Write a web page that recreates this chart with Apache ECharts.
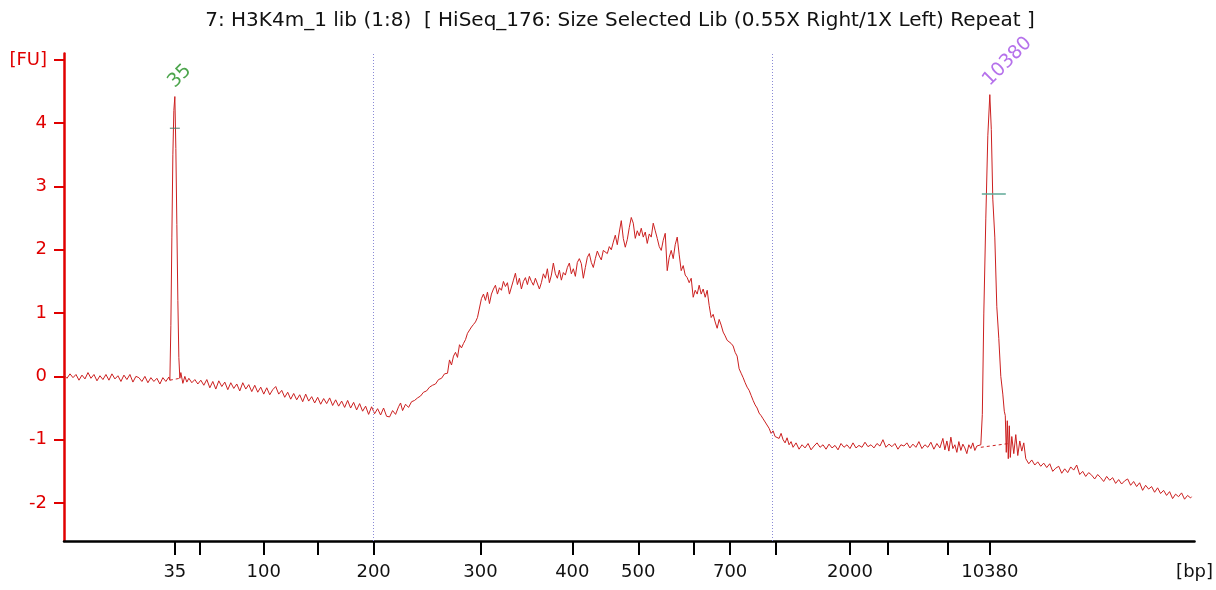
<!DOCTYPE html>
<html>
<head>
<meta charset="utf-8">
<title>Electropherogram</title>
<script src="https://cdn.jsdelivr.net/npm/echarts@6/dist/echarts.min.js"></script>
<style>
  html, body { margin: 0; padding: 0; background: #fff; }
  #chart { width: 1216px; height: 590px; }
</style>
</head>
<body>
<div id="chart"></div>
<script>
// Scan position along the run (0 = start of the plotted window) and fluorescence [FU]
const scanPos = [
  0,3,6,9,12,15,18,21,24,27,30,33,36,39,42,45,48,51,54,57,60,63,66,69,72,75,78,81,84,87,90,93,96,99,102,105,
  106,107,108,109,110,111,112,113,114,115,116,
  117,119,121,123,125,128,131,134,137,140,143,146,149,152,155,158,161,164,167,170,173,176,179,182,185,188,191,194,197,
  200,203,206,209,212,215,218,221,224,227,230,233,236,239,242,245,248,251,254,257,260,263,266,269,272,275,278,281,284,
  287,290,293,296,299,302,305,308,311,314,317,320,323,326,329,332,335,337,339,342,345,348,351,354,357,360,363,366,369,
  372,375,378,381,384,386,388,390,392,394,396,398,400,402,404,406,408,410,412,414,416,418,420,422,424,426,428,430,432,
  434,436,438,440,442,444,446,448,450,452,454,456,458,460,462,464,466,468,470,472,474,476,478,480,482,484,486,488,490,
  492,494,496,498,500,502,504,506,508,510,512,514,516,518,520,522,524,526,528,530,532,534,536,538,540,542,544,546,548,
  550,552,554,556,558,560,562,564,566,568,570,572,574,576,578,580,582,584,586,588,590,592,594,596,598,600,602,604,606,
  608,610,612,614,616,618,620,622,624,626,628,630,632,634,636,638,640,642,644,646,648,650,652,654,656,658,660,662,664,
  666,668,670,672,674,676,678,680,682,684,686,688,690,692,694,696,698,700,702,704,706,708,710,712,714,716,718,720,722,
  724,726,728,730,733,736,739,742,745,748,751,754,757,760,763,766,769,772,775,778,781,784,787,790,793,796,799,802,805,
  808,811,814,817,820,823,826,829,832,835,838,841,844,847,850,853,856,859,862,865,868,871,874,877,880,882,884,886,888,
  890,892,894,896,898,900,902,904,906,908,910,912,914,916,918,
  919.5,921,923,925,927,928.5,930,932,934,936,938,940,941.5,942.5,943.5,944.5,945.5,946.5,947.5,949,951,953,955,957,959,
  961,963,966,969,972,975,978,981,984,987,990,993,996,999,1002,1005,1008,1011,1014,1017,1020,1023,1026,1029,1032,1035,
  1038,1041,1044,1047,1050,1053,1056,1059,1062,1065,1068,1071,1074,1077,1080,1083,1086,1089,1092,1095,1098,1101,1104,
  1107,1110,1113,1116,1119,1122,1125,1128,1129
];
const fluor = [
  0.02,-0.03,0.04,-0.02,0.03,-0.06,0.02,-0.04,0.06,-0.03,0.03,-0.07,0.01,-0.05,0.03,-0.06,0.04,-0.04,0.01,-0.08,0.02,-0.05,0.03,-0.09,0.00,-0.02,-0.08,0.00,-0.10,-0.02,-0.08,-0.03,-0.12,-0.02,-0.08,-0.01,
  -0.06,0.8,2.2,3.5,4.2,4.42,3.6,2.4,1.2,0.3,-0.03,
  0.06,-0.11,0.00,-0.09,-0.03,-0.10,-0.05,-0.12,-0.06,-0.14,-0.05,-0.18,-0.08,-0.20,-0.07,-0.16,-0.09,-0.21,-0.10,-0.19,-0.12,-0.23,-0.10,-0.20,-0.13,-0.24,-0.14,-0.25,-0.17,
  -0.28,-0.18,-0.29,-0.21,-0.16,-0.28,-0.22,-0.33,-0.25,-0.36,-0.27,-0.37,-0.29,-0.40,-0.28,-0.39,-0.32,-0.42,-0.33,-0.44,-0.35,-0.43,-0.34,-0.46,-0.37,-0.47,-0.39,-0.49,-0.38,
  -0.50,-0.41,-0.53,-0.43,-0.55,-0.47,-0.60,-0.48,-0.59,-0.51,-0.61,-0.50,-0.63,-0.64,-0.54,-0.60,-0.48,-0.42,-0.54,-0.44,-0.49,-0.40,-0.38,-0.34,-0.31,-0.25,-0.23,-0.17,-0.14,
  -0.12,-0.05,-0.03,0.04,0.05,0.26,0.18,0.32,0.38,0.30,0.50,0.45,0.52,0.58,0.68,0.66,0.78,0.82,0.86,0.93,1.08,1.23,1.30,1.20,1.33,1.15,1.30,1.38,1.44,
  1.30,1.40,1.36,1.50,1.42,1.48,1.30,1.28,1.52,1.63,1.45,1.55,1.38,1.50,1.56,1.45,1.58,1.50,1.44,1.55,1.52,1.38,1.48,1.62,1.55,1.70,1.48,1.60,1.79,
  1.62,1.55,1.68,1.52,1.64,1.60,1.72,1.79,1.62,1.70,1.58,1.80,1.86,1.78,1.55,1.72,1.88,1.94,1.80,1.72,1.86,1.98,1.90,1.84,1.99,2.02,1.94,2.05,2.00,
  2.12,2.23,2.08,2.28,2.46,2.18,2.04,2.16,2.35,2.51,2.42,2.18,2.30,2.22,2.34,2.20,2.28,2.10,2.25,2.20,2.42,2.30,2.18,2.05,1.99,2.15,2.26,1.67,1.88,
  1.99,1.86,2.08,2.20,1.92,1.67,1.75,1.60,1.56,1.48,1.55,1.25,1.36,1.30,1.44,1.30,1.38,1.25,1.36,1.12,0.93,0.98,0.86,0.76,0.90,0.81,0.70,0.64,0.57,
  0.55,0.52,0.48,0.38,0.32,0.12,0.05,-0.02,-0.10,-0.17,-0.22,-0.30,-0.38,-0.45,-0.50,-0.58,-0.62,-0.67,-0.72,-0.70,-0.82,-0.90,-0.86,-0.95,-0.93,-0.98,-0.90,-1.00,-1.05,
  -0.97,-1.08,-1.03,-1.12,-1.05,-1.15,-1.08,-1.13,-1.06,-1.16,-1.10,-1.05,-1.12,-1.08,-1.15,-1.07,-1.13,-1.09,-1.16,-1.06,-1.12,-1.08,-1.14,-1.05,-1.13,-1.09,-1.12,-1.04,-1.11,
  -1.08,-1.13,-1.06,-1.10,-1.00,-1.12,-1.07,-1.11,-1.06,-1.15,-1.08,-1.10,-1.05,-1.13,-1.07,-1.12,-1.03,-1.14,-1.08,-1.12,-1.04,-1.15,-1.06,-1.13,-0.98,-1.16,-1.02,-1.18,-0.96,
  -1.14,-1.08,-1.20,-1.03,-1.17,-1.07,-1.13,-1.22,-1.08,-1.14,-1.05,-1.17,-1.10,-1.12,-1.08,
  -0.6,1.0,2.5,3.8,4.45,3.9,2.8,2.2,1.1,0.6,0.0,-0.28,-0.55,-0.62,-1.20,-0.70,-1.30,-0.78,-1.28,-0.95,-1.22,-0.92,-1.25,-1.02,-1.18,
  -1.05,-1.30,-1.38,-1.32,-1.40,-1.35,-1.42,-1.37,-1.44,-1.38,-1.50,-1.45,-1.42,-1.53,-1.46,-1.52,-1.43,-1.48,-1.40,-1.55,-1.50,-1.58,-1.52,-1.56,-1.62,-1.55,
  -1.60,-1.66,-1.58,-1.64,-1.60,-1.69,-1.63,-1.70,-1.65,-1.62,-1.72,-1.66,-1.74,-1.68,-1.80,-1.72,-1.78,-1.74,-1.83,-1.76,-1.85,-1.80,-1.88,
  -1.82,-1.93,-1.86,-1.90,-1.84,-1.94,-1.88,-1.92,-1.90
];

// Size-ladder tick positions on the scan axis and their bp labels ('' = unlabelled tick)
const tickPos    = [111, 136, 200, 254, 310, 417, 509, 575, 631, 667, 713, 787, 825, 885, 927];
const tickLabels = ['35', '', '100', '', '200', '300', '400', '500', '', '700', '', '2000', '', '', '10380'];
const axisEnd = 1132;
const axisEndLabel = '[bp]';

// Y ticks (FU); the top tick carries the unit
const yTicks = [-2, -1, 0, 1, 2, 3, 4, 5];
const yTopLabel = '[FU]';

// Called peaks: position, height, size label
const peakPos    = [111, 927];
const peakHeight = [4.42, 4.45];
const peakNames  = ['35', '10380'];
const peakColors = ['#1f8f1f', '#a24de6'];

// Peak baselines (dashed) and peak-width markers
const baseline35    = [[106, -0.06], [116, -0.03]];
const baseline10380 = [[918, -1.12], [946, -1.06]];
const marker35      = [[106, 3.92], [116, 3.92]];
const marker10380   = [[919, 2.88], [943, 2.88]];

// Region boundaries of the smear analysis
const regionBounds = [310, 709];

const FONT = 'DejaVu Sans';
const traceData = scanPos.map((x, i) => [x, fluor[i]]);
const labelMap = {};
tickPos.forEach((p, i) => { labelMap[p] = tickLabels[i]; });
labelMap[axisEnd] = axisEndLabel;

const chart = echarts.init(document.getElementById('chart'), null, { renderer: 'canvas' });
chart.setOption({
  animation: false,
  backgroundColor: '#ffffff',
  title: {
    text: '7: H3K4m_1 lib (1:8)  [ HiSeq_176: Size Selected Lib (0.55X Right/1X Left) Repeat ]',
    left: 615, top: 6, textAlign: 'center',
    textStyle: { fontFamily: FONT, fontSize: 20, fontWeight: 'normal', color: '#111' }
  },
  grid: { left: 64, right: 20, top: 53.5, bottom: 49, containLabel: false },
  xAxis: {
    type: 'value', min: 0, max: axisEnd,
    axisLine: { show: true, onZero: false, lineStyle: { color: '#000', width: 2.5 } },
    axisTick: { show: true, length: 14, lineStyle: { color: '#000', width: 2 }, customValues: tickPos },
    axisLabel: {
      customValues: tickPos.concat([axisEnd]),
      formatter: v => labelMap[v] !== undefined ? labelMap[v] : '',
      fontFamily: FONT, fontSize: 18, color: '#111', margin: 22
    },
    splitLine: { show: false }
  },
  yAxis: {
    type: 'value', min: -2.6, max: 5.1,
    axisLine: { show: true, onZero: false, lineStyle: { color: '#e00000', width: 2.5 } },
    axisTick: { show: true, length: 10, lineStyle: { color: '#e00000', width: 2 }, customValues: yTicks },
    axisLabel: {
      customValues: yTicks,
      formatter: v => (v === 5 ? yTopLabel : String(v)),
      fontFamily: FONT, fontSize: 18, color: '#e00000', margin: 17
    },
    splitLine: { show: false }
  },
  series: [
    {
      type: 'line', data: traceData, showSymbol: false, smooth: false,
      lineStyle: { color: '#cc2020', width: 1 },
      markLine: {
        silent: true, symbol: 'none', label: { show: false },
        lineStyle: { color: '#8a8ad6', type: [1, 2], width: 1 },
        data: regionBounds.map(x => ({ xAxis: x }))
      },
      z: 3
    },
    { type: 'line', data: baseline35, showSymbol: false, lineStyle: { color: '#cc2020', width: 1, type: [3, 3] }, z: 2 },
    { type: 'line', data: baseline10380, showSymbol: false, lineStyle: { color: '#cc2020', width: 1, type: [3, 3] }, z: 2 },
    { type: 'line', data: marker35, showSymbol: false, lineStyle: { color: '#4f7a66', width: 1 }, z: 4 },
    { type: 'line', data: marker10380, showSymbol: false, lineStyle: { color: '#5fa897', width: 1.5 }, z: 4 },
    {
      type: 'scatter', symbolSize: 0, z: 5,
      data: peakPos.map((p, i) => ({
        value: [p, peakHeight[i]],
        label: {
          show: true, formatter: peakNames[i], color: peakColors[i],
          fontFamily: FONT, fontSize: 19, rotate: 45,
          position: [3, -5], align: 'left', verticalAlign: 'bottom'
        }
      }))
    }
  ]
});
</script>
</body>
</html>
